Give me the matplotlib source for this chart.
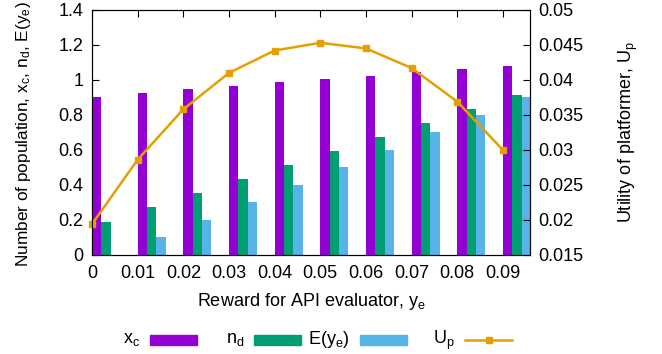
import numpy as np
import matplotlib.pyplot as plt
from matplotlib.patches import Rectangle
from matplotlib.lines import Line2D

plt.rcParams['font.family'] = ['Liberation Sans', 'DejaVu Sans']
plt.rcParams['mathtext.fontset'] = 'custom'
plt.rcParams['mathtext.rm'] = 'Liberation Sans'
plt.rcParams['mathtext.it'] = 'Liberation Sans'

# Datos
rewards = ['0', '0.01', '0.02', '0.03', '0.04', '0.05', '0.06', '0.07', '0.08', '0.09']
x_c = [0.905, 0.927, 0.948, 0.967, 0.986, 1.006, 1.024, 1.043, 1.064, 1.081]
n_d = [0.19, 0.273, 0.354, 0.434, 0.514, 0.592, 0.674, 0.752, 0.835, 0.913]
E_ye = [0.0, 0.101, 0.2, 0.302, 0.401, 0.503, 0.602, 0.703, 0.802, 0.904]
U_p = [0.0194, 0.0286, 0.0358, 0.0410, 0.0442, 0.0453, 0.0445, 0.0417, 0.0369, 0.0300]

c_xc = '#9400D3'
c_nd = '#009E73'
c_e = '#56B4E9'
c_up = '#E69F00'

W, H = 662, 354
fig = plt.figure(figsize=(W / 100, H / 100), dpi=100)
ax = fig.add_axes([0.139, 0.28, 0.662, 0.692])
ax2 = ax.twinx()

x = np.arange(len(rewards))
w = 0.205
ax.bar(x, x_c, w, align='edge', color=c_xc, zorder=2)
ax.bar(x + w, n_d, w, align='edge', color=c_nd, zorder=2)
ax.bar(x + 2 * w, E_ye, w, align='edge', color=c_e, zorder=2)
ax2.plot(x, U_p, color=c_up, lw=1.8, marker='s', markersize=5, clip_on=False)

ax.set_xlim(0, 9.6)
ax.set_ylim(0, 1.4)
ax2.set_ylim(0.015, 0.05)
ax.set_xticks(x)
ax.set_xticklabels(rewards)
ax.set_yticks(np.arange(0, 1.41, 0.2))
ax.set_yticklabels(['0', '0.2', '0.4', '0.6', '0.8', '1', '1.2', '1.4'])
ax2.set_yticks(np.arange(0.015, 0.0501, 0.005))
ax2.set_yticklabels(['0.015', '0.02', '0.025', '0.03', '0.035', '0.04', '0.045', '0.05'])

fs = 13
ax.tick_params(axis='x', direction='in', top=True, length=5, labelsize=fs, pad=7)
ax.tick_params(axis='y', direction='in', length=5, labelsize=fs, pad=6)
ax2.tick_params(axis='y', direction='in', length=5, labelsize=fs, pad=6)

ax.set_xlabel('Reward for API evaluator, y$_\\mathregular{e}$', fontsize=fs, labelpad=7)
ax.set_ylabel('Number of population, x$_\\mathregular{c}$, n$_\\mathregular{d}$, E(y$_\\mathregular{e}$)',
              fontsize=12.4)
ax.yaxis.set_label_coords(-0.135, 0.495)
ax2.set_ylabel('Utility of platformer, U$_\\mathregular{p}$', fontsize=fs, labelpad=24)

# Leyenda estilo gnuplot: texto alineado a la derecha antes de la muestra
labels = ['x$_\\mathregular{c}$', 'n$_\\mathregular{d}$', 'E(y$_\\mathregular{e}$)', 'U$_\\mathregular{p}$']
colors = [c_xc, c_nd, c_e, c_up]
col_left = [150, 254, 360, 465]
sample_w, sample_h = 47, 10
yc = 340
for lab, col, left in zip(labels, colors, col_left):
    fig.text((left - 10) / W, 1 - yc / H, lab, ha='right', va='center', fontsize=fs)
    if lab.startswith('U'):
        fig.add_artist(Line2D([left / W, (left + sample_w) / W], [1 - yc / H] * 2,
                              transform=fig.transFigure, color=col, lw=1.8))
        fig.add_artist(Line2D([(left + sample_w / 2) / W], [1 - yc / H],
                              transform=fig.transFigure, color=col, marker='s', markersize=5))
    else:
        fig.add_artist(Rectangle((left / W, 1 - (yc + sample_h / 2) / H), sample_w / W, sample_h / H,
                                 transform=fig.transFigure, color=col))

fig.savefig('out.png', dpi=100)
